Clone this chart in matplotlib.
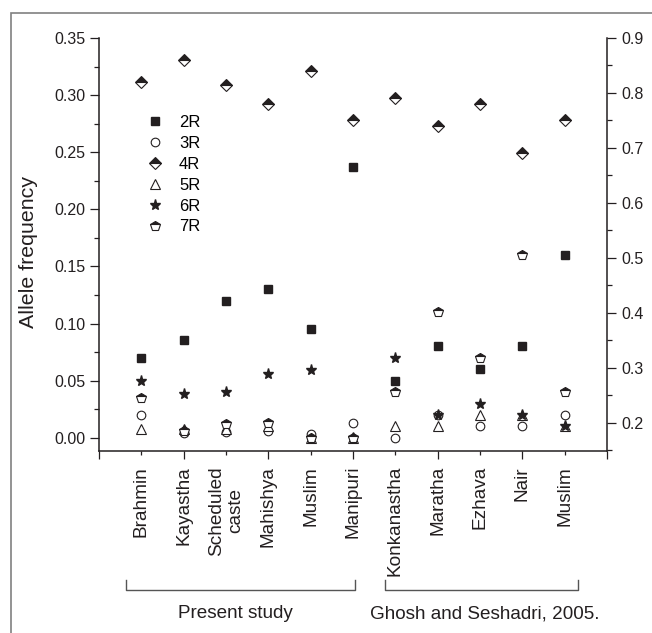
import matplotlib
matplotlib.use('Agg')
import matplotlib.pyplot as plt
import matplotlib.transforms as mtransforms
from matplotlib.lines import Line2D
from matplotlib.patches import Rectangle
from matplotlib.ticker import MultipleLocator

plt.rcParams['font.family'] = ['Liberation Sans', 'DejaVu Sans']

# populations (first 6 = present study, last 5 = Ghosh and Seshadri, 2005)
groups = ['Brahmin', 'Kayastha', 'Scheduled\ncaste', 'Mahishya', 'Muslim', 'Manipuri',
          'Konkanastha', 'Maratha', 'Ezhava', 'Nair', 'Muslim']
r2 = [0.070, 0.086, 0.120, 0.130, 0.095, 0.237, 0.050, 0.080, 0.060, 0.080, 0.160]
r3 = [0.020, 0.004, 0.005, 0.006, 0.003, 0.013, 0.000, 0.020, 0.010, 0.010, 0.020]
r4 = [0.82, 0.86, 0.815, 0.78, 0.84, 0.75, 0.79, 0.74, 0.78, 0.69, 0.75]  # right axis
r5 = [0.008, 0.008, 0.008, 0.010, 0.000, 0.000, 0.010, 0.010, 0.020, 0.020, 0.010]
r6 = [0.050, 0.038, 0.040, 0.056, 0.059, 0.000, 0.070, 0.020, 0.030, 0.020, 0.010]
r7 = [0.035, 0.006, 0.012, 0.013, 0.000, 0.000, 0.040, 0.110, 0.070, 0.160, 0.040]
study_names = ['Present study', 'Ghosh and Seshadri, 2005.']

W, H = 652, 633
fig = plt.figure(figsize=(W / 100, H / 100), dpi=100)
ax = fig.add_axes([99 / W, 1 - 451 / H, 508 / W, 413 / H])
ax2 = ax.twinx()

x = list(range(1, len(groups) + 1))
ink = '#231f20'

h2, = ax.plot(x, r2, ls='none', marker='s', ms=5.6, color=ink, label='2R')
h3, = ax.plot(x, r3, ls='none', marker='o', ms=6.2, mfc='white', mec=ink, mew=0.8, label='3R')
h5, = ax.plot(x, r5, ls='none', marker='^', ms=6.9, mfc='white', mec=ink, mew=0.8, label='5R')
h6, = ax.plot(x, r6, ls='none', marker='*', ms=8.0, color=ink, label='6R')
h7, = ax.plot(x, r7, ls='none', marker='p', ms=7, fillstyle='top', mfc=ink, mfcalt='white',
              mec=ink, mew=0.8, label='7R')
h4, = ax2.plot(x, r4, ls='none', marker='D', ms=5.8, fillstyle='top', mfc=ink, mfcalt='white',
               mec=ink, mew=0.8, label='4R')

ax.set_xlim(0, 12)
ax.set_ylim(-0.0115, 0.35)
ax2.set_ylim(0.149, 0.9)

# even positions on long ticks, odd positions on short ticks
major_pos = list(range(0, 13, 2))
minor_pos = list(range(1, 12, 2))
ax.set_xticks(major_pos, labels=[groups[p - 1] if 1 <= p <= len(groups) else '' for p in major_pos],
              rotation=90, fontsize=13.7)
ax.set_xticks(minor_pos, labels=[groups[p - 1] for p in minor_pos], minor=True,
              rotation=90, fontsize=13.7)

ax.yaxis.set_major_locator(MultipleLocator(0.05))
ax.yaxis.set_minor_locator(MultipleLocator(0.025))
ax.yaxis.set_major_formatter(plt.FormatStrFormatter('%.2f'))
ax2.yaxis.set_major_locator(MultipleLocator(0.1))
ax2.yaxis.set_minor_locator(MultipleLocator(0.05))
ax2.yaxis.set_major_formatter(plt.FormatStrFormatter('%.1f'))

ax.tick_params(axis='y', which='major', direction='out', length=6.5, width=0.9, pad=3,
               labelsize=11.5, colors=ink)
ax.tick_params(axis='y', which='minor', direction='out', length=3.5, width=0.9, colors=ink)
ax2.tick_params(axis='y', which='major', direction='out', length=6.5, width=0.9, pad=3.5,
                labelsize=11.5, colors=ink)
ax2.tick_params(axis='y', which='minor', direction='out', length=3.5, width=0.9, colors=ink)
ax.tick_params(axis='x', which='major', direction='out', length=6, width=0.9, pad=4.8, colors=ink)
ax.tick_params(axis='x', which='minor', direction='out', length=3, width=0.9, pad=7.8, colors=ink)

for a in (ax, ax2):
    a.spines['top'].set_visible(False)
    for s in a.spines.values():
        s.set_linewidth(1.1)
        s.set_color(ink)
ax.spines['right'].set_visible(False)
ax2.spines['left'].set_visible(False)
ax2.spines['bottom'].set_visible(False)

ax.set_ylabel('Allele frequency', fontsize=15.4, color=ink)
ax.yaxis.set_label_coords(-0.12, 0.482)

ax2.legend([h2, h3, h4, h5, h6, h7], ['2R', '3R', '4R', '5R', '6R', '7R'],
           loc='upper left', bbox_to_anchor=(0.094, 0.813), frameon=False, numpoints=1,
           fontsize=12, handlelength=1.0, handletextpad=0.94, labelspacing=0.35,
           borderpad=0, borderaxespad=0)

# group brackets under the category labels
trans = mtransforms.blended_transform_factory(ax.transData, fig.transFigure)
yl = 1 - 590 / H
yt = 1 - 580 / H
for x0, x1 in [(0.63, 6.05), (6.76, 11.31)]:
    fig.add_artist(Line2D([x0, x0, x1, x1], [yt, yl, yl, yt], transform=trans,
                          color='#555555', lw=1.0))
ax.text(3.22, 1 - 614 / H, study_names[0], transform=trans, ha='center', va='center',
        fontsize=13.6, color=ink)
ax.text(9.12, 1 - 614 / H, study_names[1], transform=trans, ha='center', va='center',
        fontsize=13.6, color=ink)

# outer frame
fig.add_artist(Rectangle((11 / W, -0.05), 1.0, 1 - 13 / H + 0.05, transform=fig.transFigure,
                         fill=False, ec='#808080', lw=1.2))

fig.savefig('out.png', dpi=100)
